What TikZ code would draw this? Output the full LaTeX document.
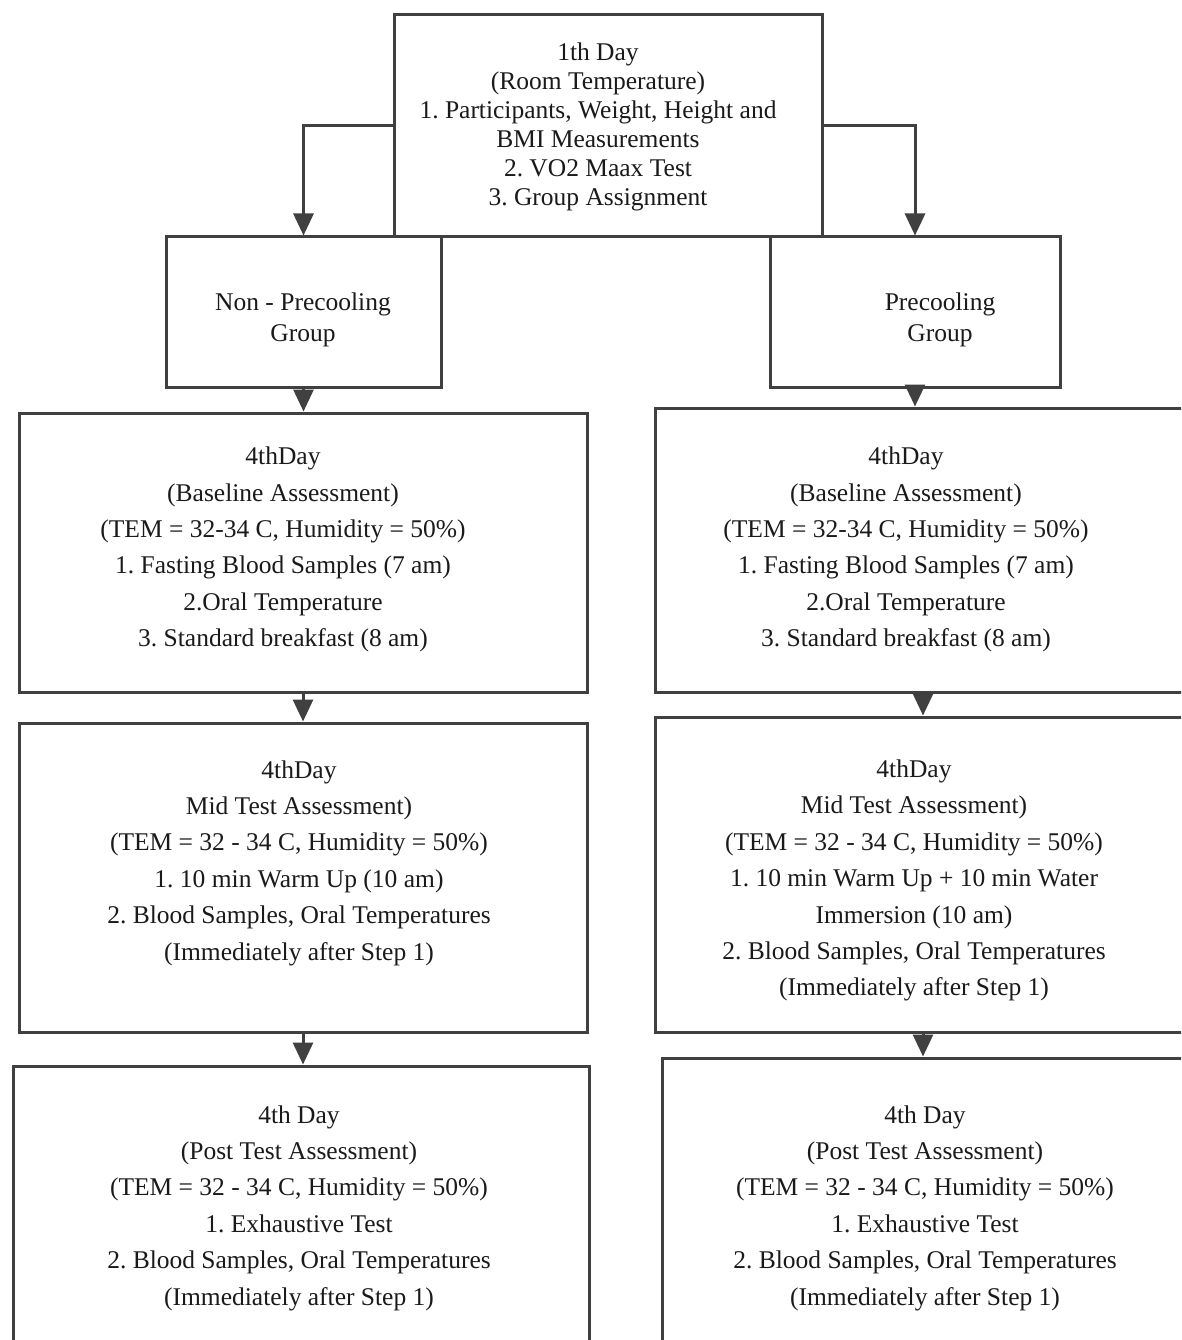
\documentclass[tikz,border=0pt]{standalone}
\usepackage{fontspec}
\setmainfont{Liberation Serif}
\usetikzlibrary{arrows.meta}
\definecolor{linegray}{HTML}{404040}
\definecolor{textblack}{HTML}{1A1A1A}
\frenchspacing
\begin{document}
\frenchspacing
\begin{tikzpicture}[x=1pt,y=-1pt,
  box/.style={draw=linegray, line width=3pt, rectangle, inner sep=0pt},
  txt/.style={align=center, text=textblack, inner sep=0pt, font=\fontsize{25.5}{36.4}\selectfont},
  arr/.style={draw=linegray, line width=3pt, -{Triangle[width=20pt,length=22pt]}}]
\useasboundingbox (0,0) rectangle (1181,1340);
\clip (0,0) rectangle (1181,1340);
\fill[white] (0,0) rectangle (1181,1340);

% boxes
\node[box, minimum width=428pt, minimum height=222pt] (day1) at (608,126) {};
\node[box, minimum width=275pt, minimum height=150pt] (nonpre) at (303.5,312) {};
\node[box, minimum width=290pt, minimum height=150pt] (pre) at (915,312) {};
\node[box, minimum width=568pt, minimum height=279pt] (lbase) at (303,552.5) {};
\node[box, minimum width=536pt, minimum height=284pt] (rbase) at (923,550) {};
\node[box, minimum width=568pt, minimum height=309pt] (lmid) at (303,877.5) {};
\node[box, minimum width=536pt, minimum height=315pt] (rmid) at (923,874.5) {};
\node[box, minimum width=576pt, minimum height=334pt] (lpost) at (301,1233) {};
\node[box, minimum width=522pt, minimum height=342pt] (rpost) at (923,1229) {};

% texts
\node[txt, font=\fontsize{25.5}{29}\selectfont] (tday1) at (598,127)
  {1th Day\\(Room Temperature)\\1. Participants, Weight, Height and\\BMI Measurements\\2. VO2 Maax Test\\3. Group Assignment};
\node[txt, font=\fontsize{25.5}{31}\selectfont] (tnonpre) at (303,320) {Non - Precooling\\Group};
\node[txt, font=\fontsize{25.5}{31}\selectfont] (tpre) at (940,320) {Precooling\\Group};
\node[txt] (tlbase) at (283,549.5)
  {4thDay\\(Baseline Assessment)\\(TEM = 32-34 C, Humidity = 50\%)\\1. Fasting Blood Samples (7 am)\\2.Oral Temperature\\3. Standard breakfast (8 am)};
\node[txt] (trbase) at (906,549.5)
  {4thDay\\(Baseline Assessment)\\(TEM = 32-34 C, Humidity = 50\%)\\1. Fasting Blood Samples (7 am)\\2.Oral Temperature\\3. Standard breakfast (8 am)};
\node[txt] (tlmid) at (299,863)
  {4thDay\\Mid Test Assessment)\\(TEM = 32 - 34 C, Humidity = 50\%)\\1. 10 min Warm Up (10 am)\\2. Blood Samples, Oral Temperatures\\(Immediately after Step 1)};
\node[txt] (trmid) at (914,880.5)
  {4thDay\\Mid Test Assessment)\\(TEM = 32 - 34 C, Humidity = 50\%)\\1. 10 min Warm Up + 10 min Water\\Immersion (10 am)\\2. Blood Samples, Oral Temperatures\\(Immediately after Step 1)};
\node[txt] (tlpost) at (299,1208)
  {4th Day\\(Post Test Assessment)\\(TEM = 32 - 34 C, Humidity = 50\%)\\1. Exhaustive Test\\2. Blood Samples, Oral Temperatures\\(Immediately after Step 1)};
\node[txt] (trpost) at (925,1208)
  {4th Day\\(Post Test Assessment)\\(TEM = 32 - 34 C, Humidity = 50\%)\\1. Exhaustive Test\\2. Blood Samples, Oral Temperatures\\(Immediately after Step 1)};

% connectors
\draw[arr] (day1.west) -| (nonpre.north);
\draw[arr] (day1.east) -| (pre.north);
\draw[arr] (nonpre.south) -- (nonpre.south |- lbase.north);
\draw[arr] (pre.south) -- (pre.south |- rbase.north);
\draw[arr] (lbase.south) -- (lmid.north);
\draw[arr] (rbase.south) -- (rmid.north);
\draw[arr] (lmid.south) -- (lmid.south |- lpost.north);
\draw[arr] (rmid.south) -- (rpost.north);
\end{tikzpicture}
\end{document}
